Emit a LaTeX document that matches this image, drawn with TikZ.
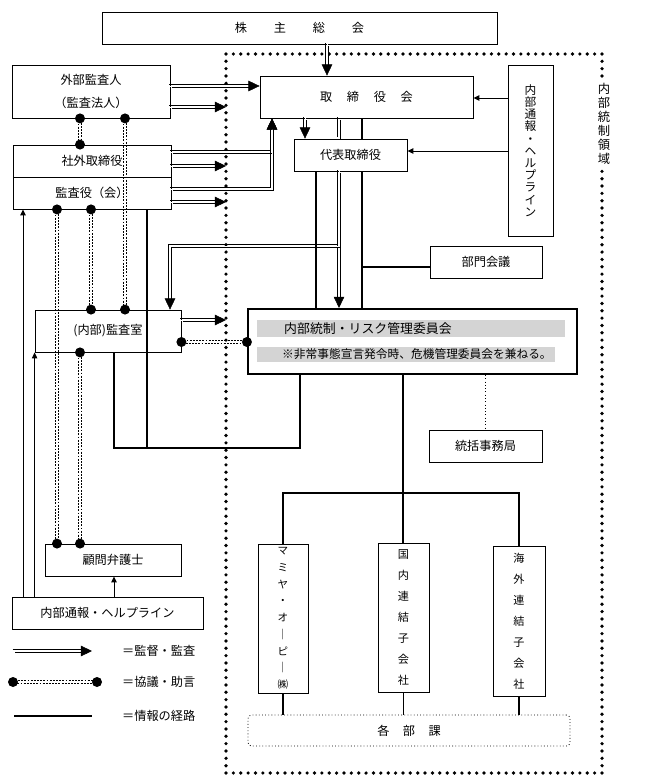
\documentclass[tikz,border=0pt]{standalone}
\usepackage{fontspec}
\setmainfont{Noto Sans CJK JP}
\usetikzlibrary{arrows.meta, calc}

\begin{document}
\begin{tikzpicture}[x=0.3mm, y=-0.3mm,
    box/.style={draw=black, line width=0.7pt, fill=white, inner sep=1pt, font=\fontsize{10.4}{12}\selectfont},
    dbl/.style={preaction={draw=black, line width=0.65pt, -, shorten >=#1, transform canvas={shift={(1.4,1.4)}}},
      postaction={draw=black, line width=0.65pt, -, shorten >=#1, transform canvas={shift={(-1.4,-1.4)}}}},
    audit/.style={dbl=7pt, draw=white, line width=0.4pt, -{Triangle[length=9.5pt, width=9pt, color=black]}},
    dline/.style={dbl=0pt, draw=none},
    consult/.style={draw=none,
      preaction={draw=black, line width=0.7pt, dash pattern=on 1.6pt off 1.1pt, transform canvas={shift={(1.2,1.2)}}},
      postaction={draw=black, line width=0.7pt, dash pattern=on 1.6pt off 1.1pt, transform canvas={shift={(-1.2,-1.2)}}}},
    info/.style={line width=0.9pt},
    hl/.style={line width=0.8pt, -{Triangle[length=5pt, width=4.5pt]}},
    bar/.style={fill=black!17, minimum height=5.1mm, inner sep=0pt}]
  \useasboundingbox (0,0) rectangle (648,781);

  \node[inner sep=0pt, outer sep=0pt, minimum width=112.8mm, minimum height=215.7mm] (ICA) at (414,413.5) {};
  \foreach \i in {0,...,51} {
    \fill ($(ICA.north west)!\i/51!(ICA.north east)$) circle (0.55mm);
    \fill ($(ICA.south west)!\i/51!(ICA.south east)$) circle (0.55mm);
  }
  \foreach \i in {1,...,97} {
    \fill ($(ICA.north west)!\i/98!(ICA.south west)$) circle (0.55mm);
    \fill ($(ICA.north east)!\i/98!(ICA.south east)$) circle (0.55mm);
  }
  \node[fill=white, inner sep=2pt, align=center, font=\fontsize{10.5}{11.9}\selectfont] (ICAL) at (604,124)
    {内\\部\\統\\制\\領\\域};

  \node[box, minimum width=118.5mm, minimum height=9.6mm] (SH) at (299.5,28)
    {株\hspace{2.2em}主\hspace{2.2em}総\hspace{2.2em}会};
  \node[box, minimum width=47.4mm, minimum height=15.9mm, align=center,
    font=\fontsize{10.4}{20.4}\selectfont] (EA) at (91,91.5) {外部監査人\\（監査法人）};
  \node[box, minimum width=47.4mm, minimum height=9.6mm] (OD) at (92,161) {社外取締役};
  \node[box, minimum width=47.4mm, minimum height=9.6mm] (AB) at (92,193) {監査役（会）};
  \node[box, minimum width=63.9mm, minimum height=12.6mm] (BD) at (366.5,97)
    {取\hspace{1.2em}締\hspace{1.2em}役\hspace{1.2em}会};
  \node[box, minimum width=33.9mm, minimum height=9.6mm] (RD) at (350.5,155) {代表取締役};
  \node[box, minimum width=13.5mm, minimum height=51.3mm, align=center,
    font=\fontsize{10}{10.4}\selectfont] (HL) at (530.5,150.5)
    {内\\部\\通\\報\\・\\ヘ\\ル\\プ\\ラ\\イ\\ン};
  \node[box, minimum width=33.6mm, minimum height=9.6mm] (DM) at (486,262) {部門会議};

  \node[box, line width=1.8pt, minimum width=98.7mm, minimum height=19.5mm] (RC) at (412.5,341.5) {};
  \node[bar, minimum width=92.4mm] (RB1) at (411,328.5) {};
  \node[bar, minimum width=89.4mm, minimum height=4.5mm] (RB2) at (406,354.5) {};
  \node[anchor=west, inner sep=0pt, font=\fontsize{11}{12}\selectfont] (RT1) at (284,328.5)
    {内部統制・リスク管理委員会};
  \node[anchor=west, inner sep=0pt, font=\fontsize{10}{12}\selectfont] (RT2) at (282,354.5)
    {※非常事態宣言発令時、危機管理委員会を兼ねる。};

  \node[box, minimum width=33.9mm, minimum height=9.6mm] (SEC) at (485.5,446) {統括事務局};
  \node[box, fill=none, minimum width=43.8mm, minimum height=12.6mm] (IA) at (108,331) {(内部)監査室};
  \node[box, minimum width=40.8mm, minimum height=9.6mm] (LA) at (113,560) {顧問弁護士};
  \node[box, minimum width=57.3mm, minimum height=9.6mm] (HB) at (107.5,613) {内部通報・ヘルプライン};

  \node[box, minimum width=15mm, minimum height=44.7mm, align=center,
    font=\fontsize{9}{14.3}\selectfont] (C1) at (283,618.5) {マ\\ミ\\ヤ\\・\\オ\\｜\\ピ\\｜\\㈱};
  \node[box, minimum width=15.3mm, minimum height=44.7mm, align=center,
    font=\fontsize{9.5}{17.9}\selectfont] (C2) at (403.5,617.5) {国\\内\\連\\結\\子\\会\\社};
  \node[box, minimum width=15.6mm, minimum height=45mm, align=center,
    font=\fontsize{9.5}{17.9}\selectfont] (C3) at (519,621) {海\\外\\連\\結\\子\\会\\社};
  \node[box, dotted, rounded corners=3pt, minimum width=96.6mm, minimum height=9.3mm] (DEP) at (409,730.5)
    {各\hspace{1.1em}部\hspace{1.1em}課};

  \coordinate (J1) at (362,267);
  \coordinate (J2) at (339,246);
  \coordinate (J3) at (147,448);

  \draw[audit] (SH.south -| 327,0) -- (BD.north -| 327,0);
  \draw[audit] (EA.east |- 0,86) -- (BD.west |- 0,86);
  \draw[audit] (EA.east |- 0,107) -- (ICA.west |- 0,107);
  \draw[audit] (OD.east |- 0,152) -| (BD.south -| 272,0);
  \draw[audit] (AB.east |- 0,189) -| (BD.south -| 272,0);
  \draw[audit] (OD.east |- 0,166) -- (ICA.west |- 0,166);
  \draw[audit] (AB.east |- 0,202) -- (ICA.west |- 0,202);
  \draw[audit] (BD.south -| 305,0) -- (RD.north -| 305,0);
  \draw[dline] (BD.south -| 339,0) -- (RD.north -| 339,0);
  \draw[audit] (RD.south -| 339,0) -- (RC.north -| 339,0);
  \draw[audit] (J2) -| (IA.north -| 170,0);
  \draw[audit] (IA.east |- 0,320) -- (ICA.west |- 0,320);

  \draw[info] (BD.south -| 362,0) -- (RD.north -| 362,0);
  \draw[info] (RD.south -| 362,0) -- (RC.north -| 362,0);
  \draw[info] (RD.south -| 316,0) -- (RC.north -| 316,0);
  \draw[info] (J1) -- (DM.west |- J1);
  \draw[info] (IA.south -| 114,0) |- (300,448) -- (RC.south -| 300,0);
  \draw[info] (AB.south -| 147,0) -- (J3);
  \draw[hl] (HL.west |- 0,98) -- (BD.east |- 0,98);
  \draw[hl] (HL.west |- 0,151) -- (RD.east |- 0,151);
  \draw[hl] (HB.north -| 23,0) -- (AB.south -| 23,0);
  \draw[hl] (HB.north -| IA.south west) -- (IA.south west);
  \draw[hl] (HB.north -| 114,0) -- (LA.south -| 114,0);

  \draw[consult] (EA.south -| 80,0) -- (OD.north -| 80,0);
  \draw[consult] (EA.south -| 125,0) -- (IA.north -| 125,0);
  \draw[consult] (AB.south -| 91,0) -- (IA.north -| 91,0);
  \draw[consult] (AB.south -| 57,0) -- (LA.north -| 57,0);
  \draw[consult] (IA.south -| 80,0) -- (LA.north -| 80,0);
  \draw[consult] (IA.east |- 0,342) -- (RC.west |- 0,342);
  \fill (EA.south -| 80,0) circle (1.5mm) (OD.north -| 80,0) circle (1.5mm)
    (EA.south -| 125,0) circle (1.5mm) (IA.north -| 125,0) circle (1.5mm)
    (AB.south -| 91,0) circle (1.5mm) (IA.north -| 91,0) circle (1.5mm)
    (AB.south -| 57,0) circle (1.5mm) (LA.north -| 57,0) circle (1.5mm)
    (IA.south -| 80,0) circle (1.5mm) (LA.north -| 80,0) circle (1.5mm)
    (IA.east |- 0,342) circle (1.5mm) (RC.west |- 0,342) circle (1.5mm);

  \draw[info] (RC.south -| 403,0) -- (C2.north -| 403,0);
  \draw[info] (C1.north) -- (C1.north |- 0,493) -- (C3.north |- 0,493) -- (C3.north);
  \draw[info] (C1.south) -- (C1.south |- DEP.north);
  \draw[info] (C2.south) -- (C2.south |- DEP.north);
  \draw[info] (C3.south) -- (C3.south |- DEP.north);
  \draw[line width=0.8pt, dotted] (RC.south -| SEC.north) -- (SEC.north);

  \coordinate (L1) at (14,651);
  \coordinate (L2) at (92,651);
  \coordinate (L3) at (13,682);
  \coordinate (L4) at (97,682);
  \coordinate (L5) at (14,716);
  \coordinate (L6) at (92,716);
  \draw[audit] (L1) -- (L2);
  \draw[consult] (L3) -- (L4);
  \fill (L3) circle (1.5mm) (L4) circle (1.5mm);
  \draw[info] (L5) -- (L6);
  \node[anchor=west, font=\fontsize{10.4}{12}\selectfont] (K1) at (118,651) {＝監督・監査};
  \node[anchor=west, font=\fontsize{10.4}{12}\selectfont] (K2) at (118,682) {＝協議・助言};
  \node[anchor=west, font=\fontsize{10.4}{12}\selectfont] (K3) at (118,716) {＝情報の経路};
\end{tikzpicture}
\end{document}
